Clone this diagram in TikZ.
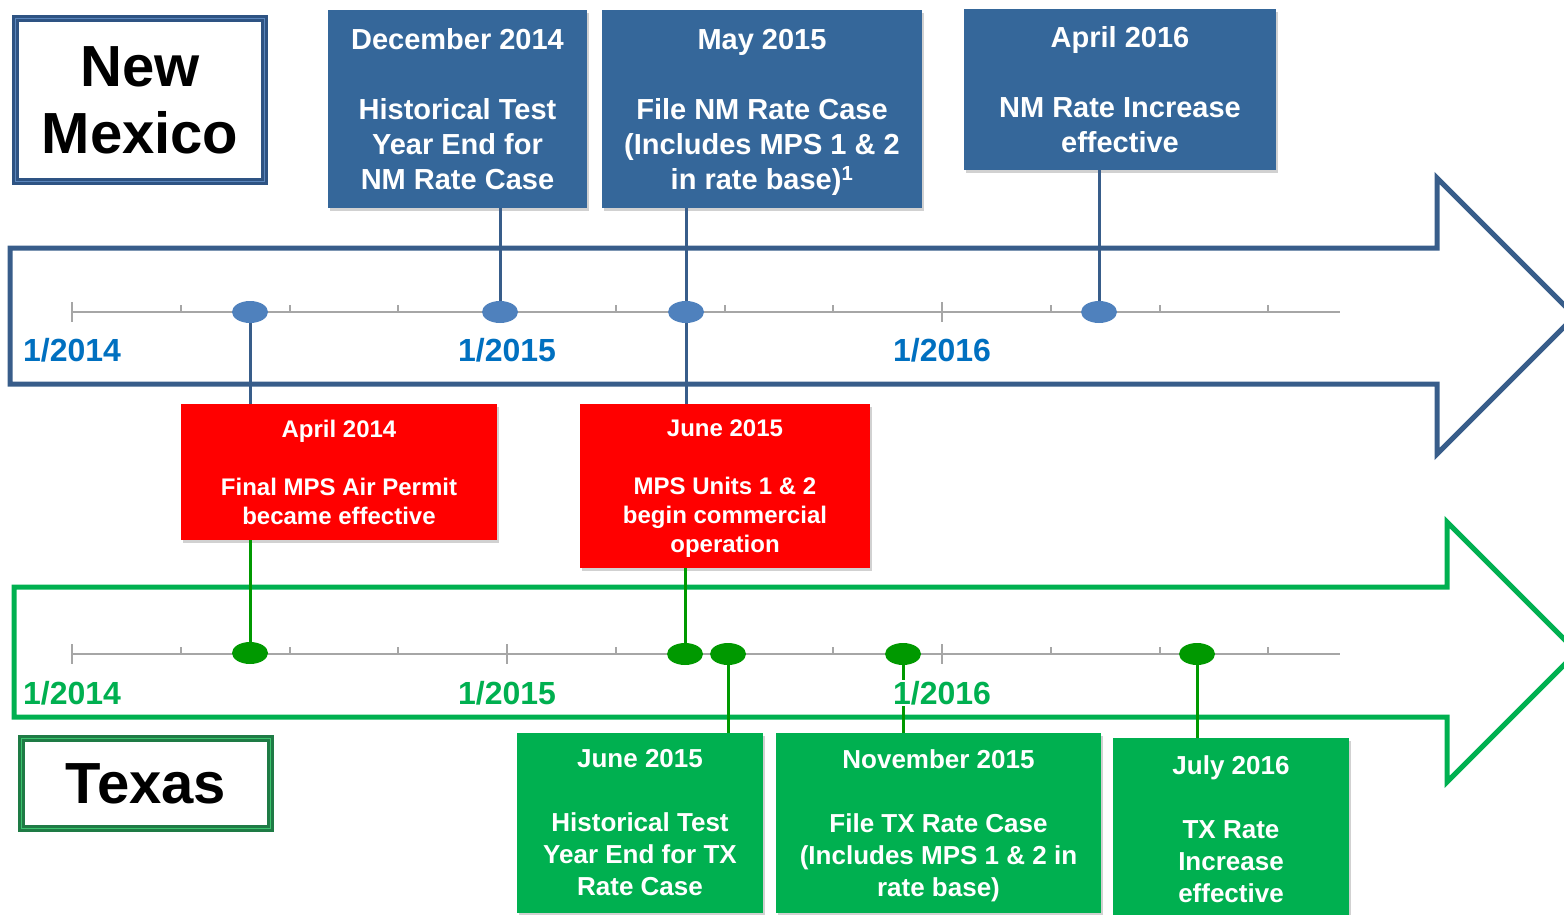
\documentclass[tikz,border=0pt]{standalone}
\usepackage{fontspec}
\setmainfont{Liberation Sans}
\usetikzlibrary{shapes.geometric,shadows}
\definecolor{nmbox}{HTML}{35679A}
\definecolor{nmline}{HTML}{385D8A}
\definecolor{nmdot}{HTML}{4F81BD}
\definecolor{nmyear}{HTML}{0070C0}
\definecolor{nmframe}{HTML}{2E5383}
\definecolor{nmframelt}{HTML}{5B86BC}
\definecolor{txgreen}{HTML}{00B050}
\definecolor{txdot}{HTML}{009900}
\definecolor{txframe}{HTML}{1E7B45}
\definecolor{txframelt}{HTML}{3CC36E}
\definecolor{axisgray}{HTML}{A6A6A6}
\begin{document}
\begin{tikzpicture}[x=1pt,y=-1pt,
  evbox/.style={text=white, align=center, inner sep=0pt,
    drop shadow={shadow xshift=2pt, shadow yshift=-3pt, opacity=0.3, fill=black!60}},
  nmevent/.style={evbox, fill=nmbox, font=\bfseries\fontsize{29}{35}\selectfont},
  redevent/.style={evbox, fill=red, font=\bfseries\fontsize{24}{29}\selectfont},
  txevent/.style={evbox, fill=txgreen, font=\bfseries\fontsize{26}{32}\selectfont},
  nmdotst/.style={ellipse, fill=nmdot, minimum width=36pt, minimum height=22pt, inner sep=0pt},
  txdotst/.style={ellipse, fill=txdot, minimum width=36pt, minimum height=22pt, inner sep=0pt},
  nmconn/.style={draw=nmline, line width=3pt},
  txconn/.style={draw=txdot, line width=3pt},
  bigarrow/.style={line width=5pt, line join=miter},
  yearlbl/.style={font=\bfseries\fontsize{32}{36}\selectfont, fill=white, inner sep=1pt},
  titlebox/.style={font=\bfseries\fontsize{58}{67}\selectfont, align=center, fill=white, inner sep=0pt, line width=7pt},
  axisst/.style={draw=axisgray, line width=2pt}
]
\useasboundingbox (0,0) rectangle (1564,915);
\clip (0,0) rectangle (1564,915);

% big arrows
\draw[bigarrow, draw=nmline] (10,248) -- (1437,248) -- (1437,178) -- (1575,316) -- (1437,454) -- (1437,384) -- (10,384) -- cycle;
\draw[bigarrow, draw=txgreen] (14,587) -- (1447,587) -- (1447,522) -- (1577,652) -- (1447,782) -- (1447,717) -- (14,717) -- cycle;

% axes
\foreach \ya in {312,654}{
  \draw[axisst] (72,\ya) -- (1340,\ya);
  \foreach \xm in {72,507,942}{ \draw[axisst] (\xm,\ya-10) -- (\xm,\ya+10); }
  \foreach \xq in {180.75,289.5,398.25,615.75,724.5,833.25,1050.75,1159.5,1268.25}{ \draw[axisst] (\xq,\ya-7) -- (\xq,\ya); }
}

% event boxes
\node[nmevent, minimum width=259pt, minimum height=198pt] (b1) at (457.5,109) {December 2014\\[35pt]Historical Test\\Year End for\\NM Rate Case};
\node[nmevent, minimum width=320pt, minimum height=198pt] (b2) at (762,109) {May 2015\\[35pt]File NM Rate Case\\(Includes MPS 1 \& 2\\\smash{in rate base)\textsuperscript{1}}};
\node[nmevent, minimum width=312pt, minimum height=161pt] (b3) at (1120,89.5) {April 2016\\[35pt]NM Rate Increase\\effective};
\node[redevent, minimum width=316pt, minimum height=136pt] (r1) at (339,472) {April 2014\\[29pt]Final MPS Air Permit\\became effective};
\node[redevent, minimum width=290pt, minimum height=164pt] (r2) at (725,486) {June 2015\\[29pt]MPS Units 1 \& 2\\begin commercial\\\smash{operation}};
\node[txevent, minimum width=246pt, minimum height=180pt] (g1) at (640,823) {June 2015\\[32pt]Historical Test\\Year End for TX\\Rate Case};
\node[txevent, minimum width=325pt, minimum height=180pt] (g2) at (938.5,823) {November 2015\\[32pt]File TX Rate Case\\(Includes MPS 1 \& 2 in\\\smash{rate base)}};
\node[txevent, minimum width=236pt, minimum height=183pt] (g3) at (1231,829.5) {July 2016\\[32pt]TX Rate\\Increase\\effective};

% dot positions
\coordinate (n1) at (250,312);
\coordinate (n2) at (500,312);
\coordinate (n3) at (686,312);
\coordinate (n4) at (1099,312);
\coordinate (t1) at (250,653);
\coordinate (t2) at (685,654);
\coordinate (t3) at (728,654);
\coordinate (t4) at (903,654);
\coordinate (t5) at (1197,654);

% connectors
\draw[nmconn] (b1.south -| n2) -- (n2);
\draw[nmconn] (b2.south -| n3) -- (r2.north -| n3);
\draw[nmconn] (b3.south -| n4) -- (n4);
\draw[nmconn] (n1) -- (r1.north -| n1);
\draw[txconn] (r1.south -| t1) -- (t1);
\draw[txconn] (r2.south -| t2) -- (t2);
\draw[txconn] (t3) -- (g1.north -| t3);
\draw[txconn] (t4) -- (g2.north -| t4);
\draw[txconn] (t5) -- (g3.north -| t5);

% dots
\foreach \d in {n1,n2,n3,n4}{ \node[nmdotst] (dot\d) at (\d) {}; }
\foreach \d in {t1,t2,t3,t4,t5}{ \node[txdotst] (dot\d) at (\d) {}; }

% year labels
\node[yearlbl, text=nmyear] (ny14) at (72,350) {1/2014};
\node[yearlbl, text=nmyear] (ny15) at (507,350) {1/2015};
\node[yearlbl, text=nmyear] (ny16) at (942,350) {1/2016};
\node[yearlbl, text=txgreen] (ty14) at (72,693) {1/2014};
\node[yearlbl, text=txgreen] (ty15) at (507,693) {1/2015};
\node[yearlbl, text=txgreen] (ty16) at (942,693) {1/2016};

% title boxes
\node[titlebox, draw=nmframe, minimum width=249pt, minimum height=163pt] (nm) at (140,100) {New\\Mexico};
\draw[nmframelt, line width=1.5pt] ([shift={(3.5,3.5)}]nm.north west) rectangle ([shift={(-3.5,-3.5)}]nm.south east);
\node[titlebox, draw=txframe, minimum width=249pt, minimum height=90pt] (tx) at (146,783.5) {Texas};
\draw[txframelt, line width=1.5pt] ([shift={(3.5,3.5)}]tx.north west) rectangle ([shift={(-3.5,-3.5)}]tx.south east);
\end{tikzpicture}
\end{document}
